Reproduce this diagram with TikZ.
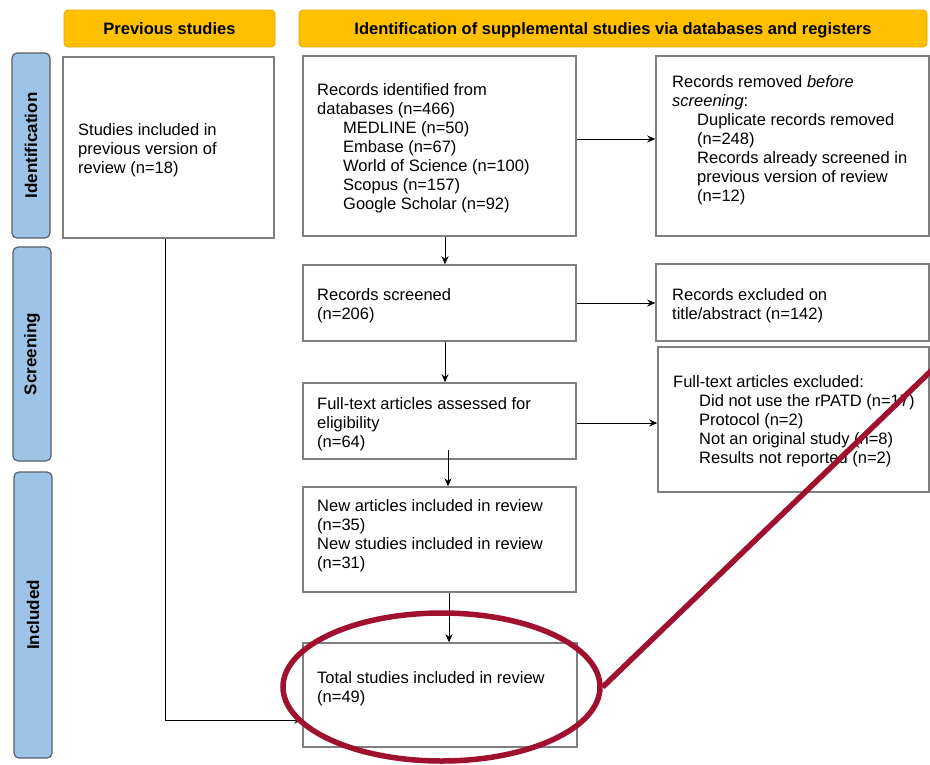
\documentclass[tikz,border=0pt]{standalone}
\usepackage{fontspec}
\setmainfont{Liberation Sans}
\usetikzlibrary{arrows.meta,shapes.geometric}
\definecolor{hdrfill}{HTML}{FFC000}
\definecolor{hdrline}{HTML}{E3AC00}
\definecolor{barfill}{HTML}{9DC3E6}
\definecolor{barline}{HTML}{5A5F66}
\definecolor{boxline}{HTML}{7F7F7F}
\definecolor{hilite}{HTML}{A0102F}
\tikzset{
  hdr/.style={draw=hdrline, fill=hdrfill, rounded corners=4pt, line width=0.8pt, inner sep=0pt,
    font=\fontsize{16.5}{19}\selectfont\bfseries, text height=12pt, text depth=0pt},
  phasebar/.style={draw=barline, fill=barfill, rounded corners=5pt, line width=1.2pt, inner sep=0pt},
  phaselbl/.style={rotate=90, font=\fontsize{17}{19}\selectfont\bfseries, inner sep=0pt},
  box/.style={draw=boxline, line width=1.5pt, fill=white, inner sep=0pt},
  txt/.style={anchor=north west, inner sep=0pt, align=left, font=\fontsize{16.5}{19}\selectfont},
  arr/.style={draw=black, line width=0.9pt, -{Stealth[length=8pt,width=7pt]}},
  hl/.style={draw=hilite, line width=5.5pt},
}
\begin{document}
\begin{tikzpicture}[x=1pt,y=-1pt]
\useasboundingbox (0,0) rectangle (930,764);
\fill[white] (0,0) rectangle (930,764);
% headers
\node[hdr, minimum width=211pt, minimum height=37pt] (prevhdr) at (169.5,28.5) {Previous studies};
\node[hdr, minimum width=628pt, minimum height=37pt] (idhdr) at (613,28.5) {Identification of supplemental studies via databases and registers};
% phase bars
\node[phasebar, minimum width=38pt, minimum height=185pt] (identbar) at (31,145.5) {};
\node[phaselbl] (identlbl) at (identbar.center) {Identification};
\node[phasebar, minimum width=38pt, minimum height=214pt] (screenbar) at (32,354) {};
\node[phaselbl] (screenlbl) at (screenbar.center) {Screening};
\node[phasebar, minimum width=38pt, minimum height=286pt] (inclbar) at (33,615) {};
\node[phaselbl] (incllbl) at (inclbar.center) {Included};
% boxes
\node[box, minimum width=211pt, minimum height=181pt] (prev) at (168.5,147.5) {};
\node[box, minimum width=273pt, minimum height=180pt] (recid) at (439.5,146) {};
\node[box, minimum width=273pt, minimum height=180pt] (removed) at (792.5,146) {};
\node[box, minimum width=273pt, minimum height=76pt] (screened) at (439.5,303) {};
\node[box, minimum width=273pt, minimum height=77pt] (excluded) at (792.5,302.5) {};
\node[box, minimum width=273pt, minimum height=76pt] (fulltext) at (439.5,421) {};
\node[box, minimum width=271pt, minimum height=145pt] (ftexcl) at (793.5,419.5) {};
\node[box, minimum width=273pt, minimum height=105pt] (newart) at (439.5,539.5) {};
\node[box, minimum width=274pt, minimum height=104pt] (total) at (440,695) {};
% texts
\node[txt] (prevtxt) at (78,123) {Studies included in\\previous version of\\review (n=18)};
\node[txt] (recidtxt) at (317,83) {Records identified from\\databases (n=466)\\
  \hspace*{26pt}MEDLINE (n=50)\\\hspace*{26pt}Embase (n=67)\\\hspace*{26pt}World of Science (n=100)\\
  \hspace*{26pt}Scopus (n=157)\\\hspace*{26pt}Google Scholar (n=92)};
\node[txt] (removedtxt) at (672,75) {Records removed \textit{before}\\\textit{screening}:\\
  \hspace*{25pt}Duplicate records removed\\\hspace*{25pt}(n=248)\\\hspace*{25pt}Records already screened in\\
  \hspace*{25pt}previous version of review\\\hspace*{25pt}(n=12)};
\node[txt] (screenedtxt) at (317,288) {Records screened\\(n=206)};
\node[txt] (excludedtxt) at (672,288) {Records excluded on\\title/abstract (n=142)};
\node[txt] (fulltexttxt) at (317,397) {Full-text articles assessed for\\eligibility\\(n=64)};
\node[txt] (ftexcltxt) at (673,375) {Full-text articles excluded:\\
  \hspace*{26pt}Did not use the rPATD (n=17)\\\hspace*{26pt}Protocol (n=2)\\
  \hspace*{26pt}Not an original study (n=8)\\\hspace*{26pt}Results not reported (n=2)};
\node[txt] (newarttxt) at (317,499) {New articles included in review\\(n=35)\\New studies included in review\\(n=31)};
\node[txt] (totaltxt) at (317,671) {Total studies included in review\\(n=49)};
% connectors
\draw[arr] ([yshift=7pt]recid.east) -- ([yshift=7pt]removed.west);
\draw[arr] (screened.east) -- (screened.east -| excluded.west);
\draw[arr] ([yshift=-2pt]fulltext.east) -- ([yshift=-2pt]fulltext.east -| ftexcl.west);
\draw[arr] ([xshift=5.5pt]recid.south) -- ([xshift=5.5pt]screened.north);
\draw[arr] ([xshift=5.5pt]screened.south) -- ([xshift=5.5pt]fulltext.north);
\draw[arr] ([xshift=8.5pt,yshift=10pt]fulltext.south) -- ([xshift=8.5pt]newart.north);
\draw[arr] ([xshift=9.5pt]newart.south) -- ([xshift=9pt]total.north);
\draw[arr] ([xshift=-3.5pt]prev.south) |- ([yshift=-25pt]total.west);
% highlight
\node[hl, ellipse, inner sep=0pt, minimum width=317pt, minimum height=148pt] (circ) at (441.5,687) {};
\coordinate (hlend) at (932,370);
\draw[hl] (circ.east) -- (hlend);
\end{tikzpicture}
\end{document}
